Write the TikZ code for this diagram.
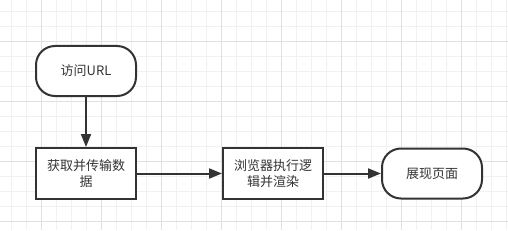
\documentclass[tikz,border=0pt]{standalone}
\usepackage{fontspec}
\newfontfamily\cjk{Noto Sans CJK SC}
\usetikzlibrary{arrows.meta}
\definecolor{ink}{HTML}{333333}
\definecolor{gridminor}{HTML}{F1F1F1}
\definecolor{gridmajor}{HTML}{E0E0E0}
\begin{document}
\begin{tikzpicture}[x=1pt,y=-1pt,
  proc/.style={draw=ink, line width=2pt, minimum width=100pt, minimum height=51pt, inner sep=0pt, align=center, font=\cjk\fontsize{13}{16}\selectfont, text=ink, fill=white},
  term/.style={proc, rounded corners=19pt, minimum height=50pt},
  conn/.style={draw=ink, line width=2pt, -{Triangle[length=13pt,width=10pt]}},
  minorline/.style={draw=gridminor, line width=1pt},
  majorline/.style={draw=gridmajor, line width=1pt}]
\useasboundingbox (0,0) rectangle (508,230);
\fill[white] (0,0) rectangle (508,230);
\foreach \x in {11.5,26.5,...,508} \draw[minorline] (\x,0) -- (\x,230);
\foreach \y in {11.5,26.5,...,230} \draw[minorline] (0,\y) -- (508,\y);
\foreach \x in {41.5,101.5,...,508} \draw[majorline] (\x,0) -- (\x,230);
\foreach \y in {41.5,101.5,...,230} \draw[majorline] (0,\y) -- (508,\y);
\node[term] (visit) at (86,71) {访问URL};
\node[proc] (fetch) at (86,173.5) {获取并传输数\\据};
\node[proc] (render) at (273,173.5) {浏览器执行逻\\辑并渲染};
\node[term] (show) at (432,173.5) {展现页面};
\draw[conn] (visit) -- (fetch);
\draw[conn] (fetch) -- (render);
\draw[conn] (render) -- (show);
\end{tikzpicture}
\end{document}
